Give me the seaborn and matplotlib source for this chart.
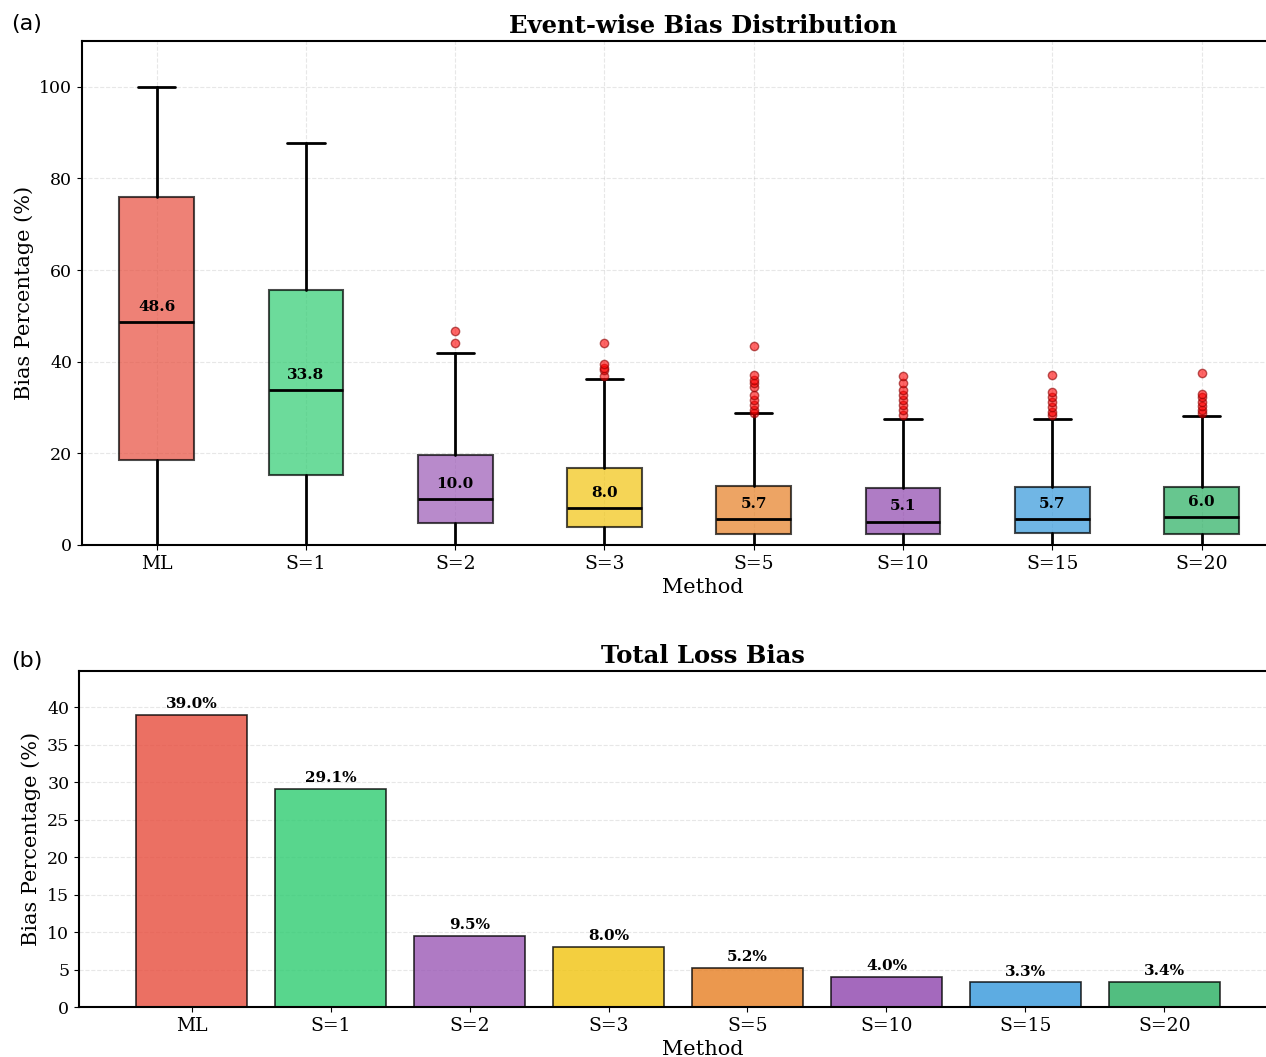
import numpy as np
import pandas as pd
import seaborn as sns
import matplotlib.pyplot as plt

sns.set_style('ticks')
plt.rcParams['font.family'] = ['DejaVu Serif']
plt.rcParams['text.color'] = 'black'
plt.rcParams['axes.labelcolor'] = 'black'
plt.rcParams['xtick.color'] = 'black'
plt.rcParams['ytick.color'] = 'black'

# data
methods = ['ML', 'S=1', 'S=2', 'S=3', 'S=5', 'S=10', 'S=15', 'S=20']
colors = ['#e74c3c', '#2ecc71', '#9b59b6', '#f1c40f', '#e67e22', '#8e44ad', '#3498db', '#27ae60']

# event-wise box summary (%)
whisker_low = [0.0, 0.0, 0.0, 0.0, 0.0, 0.0, 0.0, 0.0]
q1 = [18.6, 15.3, 4.8, 3.9, 2.4, 2.4, 2.6, 2.4]
medians = [48.6, 33.8, 10.0, 8.0, 5.7, 5.1, 5.7, 6.0]
q3 = [75.9, 55.6, 19.7, 16.8, 12.9, 12.5, 12.7, 12.7]
whisker_high = [100.0, 87.7, 42.0, 36.3, 28.7, 27.6, 27.6, 28.2]
outliers = [
    [],
    [],
    [44.0, 46.8],
    [36.8, 38.1, 38.7, 39.4, 44.1],
    [28.9, 29.5, 30.6, 31.7, 32.8, 34.4, 35.4, 36.1, 37.2, 43.5],
    [28.4, 29.5, 30.6, 31.7, 32.8, 33.9, 35.4, 36.8],
    [28.4, 29.1, 30.2, 31.3, 32.4, 33.5, 37.2],
    [28.9, 29.5, 30.4, 31.3, 32.2, 33.0, 37.6],
]

# total loss bias (%)
total_bias = [39.0, 29.1, 9.5, 8.0, 5.2, 4.0, 3.3, 3.4]

fig = plt.figure(figsize=(12.66, 10.57), dpi=100)
ax1 = fig.add_axes([0.0648, 0.4844, 0.981, 0.4768])
ax2 = fig.add_axes([0.0624, 0.0473, 0.9858, 0.3179])

# (a) box plot from summary stats
stats = []
for i in range(len(methods)):
    stats.append({'whislo': whisker_low[i], 'q1': q1[i], 'med': medians[i],
                  'q3': q3[i], 'whishi': whisker_high[i], 'fliers': outliers[i]})

bp = ax1.bxp(stats, positions=range(len(methods)), widths=0.5, patch_artist=True,
             boxprops=dict(linewidth=1.5, edgecolor='black'),
             medianprops=dict(color='black', linewidth=2),
             whiskerprops=dict(color='black', linewidth=2),
             capprops=dict(color='black', linewidth=2),
             flierprops=dict(marker='o', markerfacecolor='red', markeredgecolor='darkred',
                             markersize=6, alpha=0.6))
for patch, c in zip(bp['boxes'], colors):
    patch.set_facecolor(c)
    patch.set_alpha(0.7)

for i, m in enumerate(medians):
    ax1.text(i, m + 1.8, f'{m:.1f}', ha='center', va='bottom', fontsize=11, fontweight='bold')

ax1.set_xticks(range(len(methods)))
ax1.set_xticklabels(methods)
ax1.set_xlim(-0.5, 7.82)
ax1.set_ylim(0, 110)
ax1.set_title('Event-wise Bias Distribution', fontsize=17.5, fontweight='bold')
ax1.set_xlabel('Method', fontsize=15)
ax1.set_ylabel('Bias Percentage (%)', fontsize=15)
ax1.grid(True, linestyle='--', color='#b0b0b0', alpha=0.3)

# (b) total loss bias bars
df = pd.DataFrame({'Method': methods, 'Bias': total_bias})
sns.barplot(data=df, x='Method', y='Bias', hue='Method', palette=colors, legend=False,
            saturation=1, alpha=0.8, edgecolor='black', linewidth=1.2, width=0.8, ax=ax2)
for i, v in enumerate(total_bias):
    ax2.text(i, v + 0.5, f'{v:.1f}%', ha='center', va='bottom', fontsize=11, fontweight='bold')

ax2.set_xlim(-0.81, 8.17)
ax2.set_ylim(0, max(total_bias) * 1.15)
ax2.set_title('Total Loss Bias', fontsize=17.5, fontweight='bold')
ax2.set_xlabel('Method', fontsize=15)
ax2.set_ylabel('Bias Percentage (%)', fontsize=15)
ax2.yaxis.grid(True, linestyle='--', color='#b0b0b0', alpha=0.3)
ax2.set_axisbelow(True)

for ax in [ax1, ax2]:
    ax.tick_params(axis='x', labelsize=13.5)
    ax.tick_params(axis='y', labelsize=12.5)
    for s in ax.spines.values():
        s.set_linewidth(1.5)
        s.set_color('black')
    ax.spines['right'].set_visible(False)

fig.text(0.009, 1 - 14 / 1057, '(a)', fontsize=16, family='DejaVu Sans', va='top')
fig.text(0.009, 1 - 651 / 1057, '(b)', fontsize=16, family='DejaVu Sans', va='top')

fig.savefig('out.png', dpi=100)
